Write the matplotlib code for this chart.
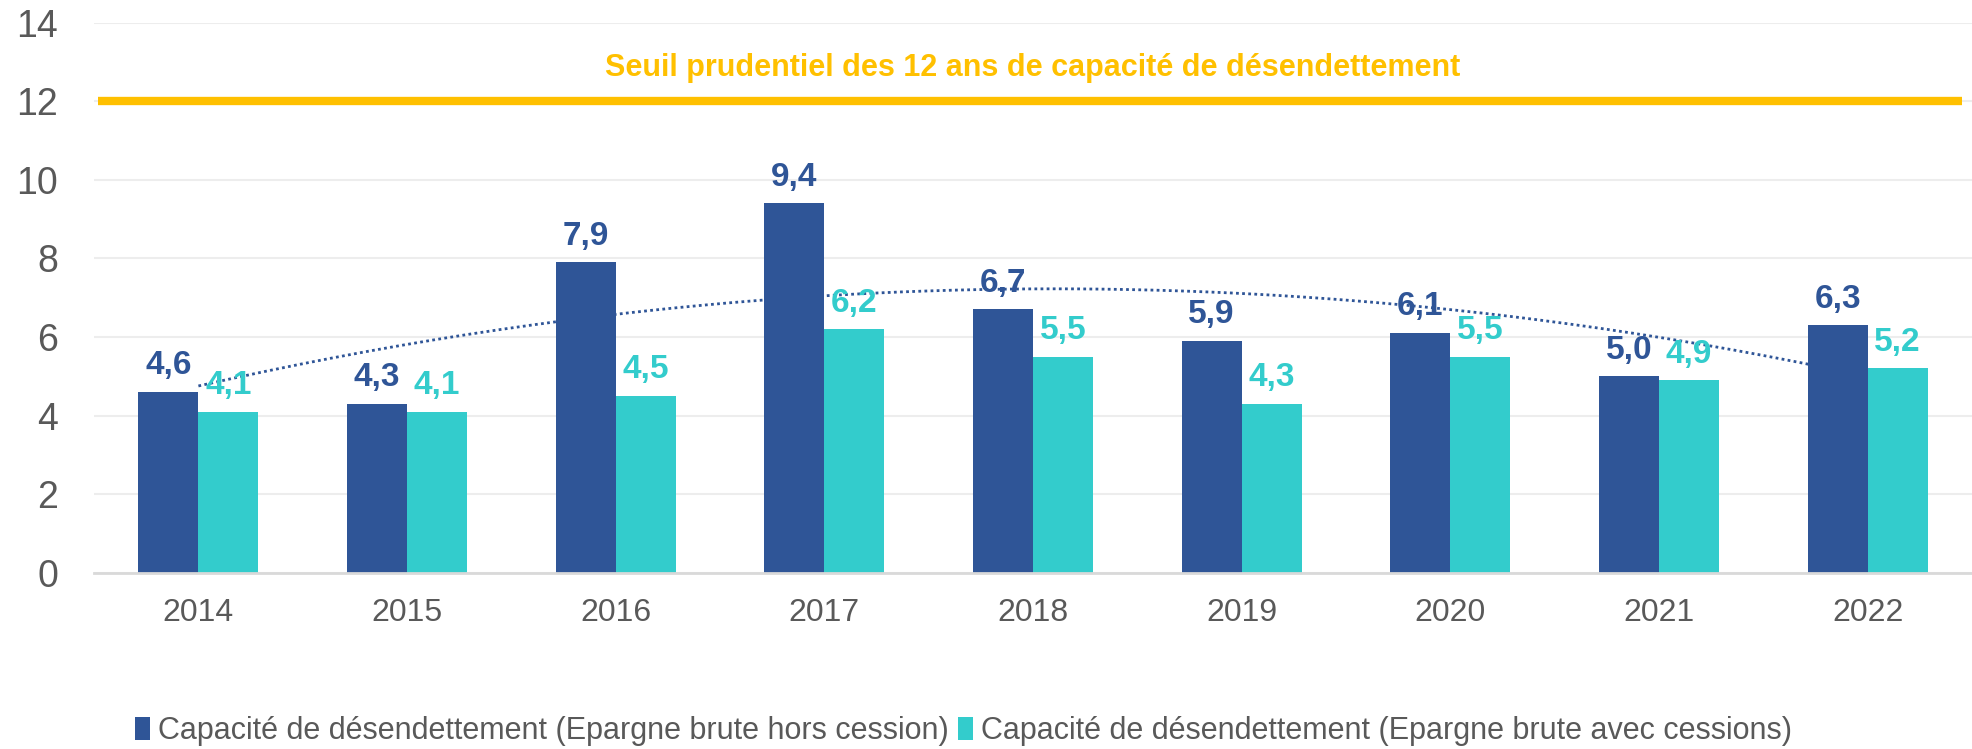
import matplotlib
matplotlib.use('Agg')
import matplotlib.pyplot as plt
import numpy as np

plt.rcParams['font.family'] = ['Liberation Sans', 'DejaVu Sans']

years = ['2014', '2015', '2016', '2017', '2018', '2019', '2020', '2021', '2022']
hors_cession = [4.6, 4.3, 7.9, 9.4, 6.7, 5.9, 6.1, 5.0, 6.3]
avec_cessions = [4.1, 4.1, 4.5, 6.2, 5.5, 4.3, 5.5, 4.9, 5.2]
seuil = 12
seuil_label = 'Seuil prudentiel des 12 ans de capacité de désendettement'
label_hors = 'Capacité de désendettement (Epargne brute hors cession)'
label_avec = 'Capacité de désendettement (Epargne brute avec cessions)'

dark_blue = '#2F5597'
teal = '#33CCCC'
orange = '#FFC000'
grey_text = '#595959'

fig = plt.figure(figsize=(19.72, 7.49), dpi=100)
ax = fig.add_axes([0.0477, 0.2354, 0.9523, 0.7343])

x = np.arange(len(years))
w = 0.288
bars1 = ax.bar(x - w / 2, hors_cession, w, color=dark_blue, label=label_hors, zorder=3)
bars2 = ax.bar(x + w / 2, avec_cessions, w, color=teal, label=label_avec, zorder=3)

for b, v in zip(bars1, hors_cession):
    ax.text(b.get_x() + b.get_width() / 2, v + 0.27, f'{v:.1f}'.replace('.', ','),
            ha='center', va='bottom', fontsize=24, fontweight='bold', color=dark_blue, zorder=5)
for b, v in zip(bars2, avec_cessions):
    ax.text(b.get_x() + b.get_width() / 2, v + 0.27, f'{v:.1f}'.replace('.', ','),
            ha='center', va='bottom', fontsize=24, fontweight='bold', color=teal, zorder=5)

# polynomial trend (order 2) of the first series
coef = np.polyfit(x, hors_cession, 2)
xt = np.linspace(x[0], x[-1], 200)
ax.plot(xt, np.polyval(coef, xt), color=dark_blue, linestyle=(0, (1, 1.2)), linewidth=2, zorder=4)

# threshold line
ax.hlines(seuil, -0.48, 8.45, color=orange, linewidth=6, zorder=4)
ax.text(4, 12.85, seuil_label, ha='center', va='center', fontsize=22,
        fontweight='bold', color=orange)

ax.set_xlim(-0.5, 8.5)
ax.set_ylim(0, 14)
ax.set_yticks(np.arange(0, 15, 2))
ax.set_xticks(x)
ax.set_xticklabels(years)
ax.tick_params(axis='both', length=0, labelcolor=grey_text)
ax.tick_params(axis='x', pad=18, labelsize=23)
ax.tick_params(axis='y', pad=26, labelsize=27)
ax.grid(axis='y', color='#EDEDED', linewidth=1.5, zorder=0)
for s in ['top', 'right', 'left']:
    ax.spines[s].set_visible(False)
ax.spines['bottom'].set_color('#D9D9D9')
ax.spines['bottom'].set_linewidth(2)
ax.spines['bottom'].set_zorder(4)

fig.legend(handles=[bars1, bars2], loc='center left', bbox_to_anchor=(0.0545, 0.024),
           ncol=2, frameon=False, fontsize=22, labelcolor=grey_text,
           handlelength=0.5, handleheight=0.75, handletextpad=0.25, columnspacing=0.3)

fig.savefig('out.png', dpi=100)
